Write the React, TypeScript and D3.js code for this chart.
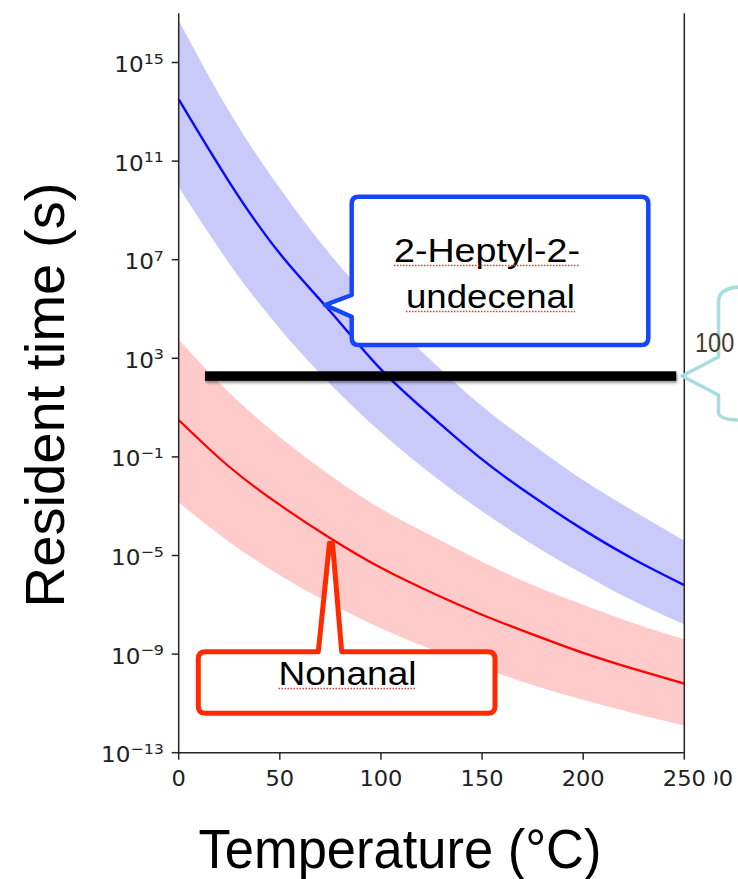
import React, { useEffect, useRef } from 'react';
import * as d3 from 'd3';

const temperatures = [0, 25, 50, 75, 100, 125, 150, 175, 200, 225, 250];

// log10 of resident time (s)
const heptylMid = [13.5, 10.15, 7.25, 4.9, 2.55, 0.65, -1.1, -2.6, -3.95, -5.15, -6.2];
const heptylHi = [16.7, 13.0, 9.9, 7.2, 4.9, 2.9, 1.05, -0.5, -1.95, -3.2, -4.4];
const heptylLo = [9.95, 6.85, 4.2, 1.95, 0.0, -1.7, -3.2, -4.55, -5.75, -6.85, -7.8];

const nonanalMid = [0.5, -1.4, -2.95, -4.3, -5.5, -6.5, -7.4, -8.2, -8.95, -9.6, -10.2];
const nonanalHi = [3.75, 1.6, -0.2, -1.75, -3.1, -4.2, -5.25, -6.2, -7.0, -7.75, -8.4];
const nonanalLo = [-2.85, -4.45, -5.8, -6.95, -7.95, -8.8, -9.55, -10.25, -10.85, -11.4, -11.9];

// thick threshold bar
const thresholdExp = 2.28;
const thresholdSpan = [13, 246];

const xTicks = [0, 50, 100, 150, 200, 250];
const yTickExps = [15, 11, 7, 3, -1, -5, -9, -13];

const SX = 1.1; // picture is a bit wider than tall

const App = () => {
  const svgRef = useRef<SVGSVGElement>(null);

  useEffect(() => {
    const svg = d3.select(svgRef.current);
    svg.selectAll('*').remove();

    const x = d3.scaleLinear().domain([0, 250]).range([178.7, 684.3]);
    const y = d3.scaleLog().domain([1e-13, 1e17]).range([752.7, 13.2]);
    const ye = (e: number) => y(Math.pow(10, e));

    const defs = svg.append('defs');
    const shadow = defs.append('filter').attr('id', 'barShadow')
      .attr('filterUnits', 'userSpaceOnUse')
      .attr('x', 180).attr('y', 355).attr('width', 520).attr('height', 45);
    shadow.append('feDropShadow').attr('dx', 1).attr('dy', 2)
      .attr('stdDeviation', 1.5).attr('flood-opacity', 0.45);
    defs.append('clipPath').attr('id', 'edgeClip')
      .append('rect').attr('x', 714.5).attr('y', 760).attr('width', 30).attr('height', 40);

    svg.append('rect').attr('width', 738).attr('height', 879).attr('fill', '#fff');

    const band = (lo: number[], hi: number[]) => d3.area<number>()
      .x((d, i) => x(temperatures[i]))
      .y0((d, i) => ye(lo[i]))
      .y1((d, i) => ye(hi[i]))
      .curve(d3.curveNatural)(temperatures);

    const line = (vals: number[]) => d3.line<number>()
      .x((d, i) => x(temperatures[i]))
      .y((d, i) => ye(vals[i]))
      .curve(d3.curveNatural)(temperatures);

    svg.append('path').attr('d', band(heptylLo, heptylHi)).attr('fill', '#c9c9fa');
    svg.append('path').attr('d', band(nonanalLo, nonanalHi)).attr('fill', '#ffcaca');
    svg.append('path').attr('d', line(heptylMid)).attr('fill', 'none')
      .attr('stroke', '#0a0aff').attr('stroke-width', 2.4);
    svg.append('path').attr('d', line(nonanalMid)).attr('fill', 'none')
      .attr('stroke', '#ff0000').attr('stroke-width', 2.2);

    // spines
    const axisColor = '#262626';
    svg.append('line').attr('x1', x(0)).attr('x2', x(0)).attr('y1', y.range()[1]).attr('y2', y.range()[0])
      .attr('stroke', axisColor).attr('stroke-width', 1.5);
    svg.append('line').attr('x1', x(250)).attr('x2', x(250)).attr('y1', y.range()[1]).attr('y2', y.range()[0])
      .attr('stroke', axisColor).attr('stroke-width', 1.5);
    svg.append('line').attr('x1', x(0) - 0.75).attr('x2', x(250) + 0.75).attr('y1', y.range()[0]).attr('y2', y.range()[0])
      .attr('stroke', axisColor).attr('stroke-width', 1.5);

    const tickFont = 'DejaVu Sans, sans-serif';

    // x ticks
    xTicks.forEach(t => {
      svg.append('line').attr('x1', x(t)).attr('x2', x(t))
        .attr('y1', y.range()[0]).attr('y2', y.range()[0] + 7)
        .attr('stroke', axisColor).attr('stroke-width', 1.5);
      svg.append('text')
        .attr('transform', `translate(${x(t)},785.5) scale(${SX},1)`)
        .attr('text-anchor', 'middle')
        .attr('font-family', tickFont).attr('font-size', 20.5).attr('fill', '#222')
        .text(String(t));
    });

    // y ticks with superscript exponents
    yTickExps.forEach(e => {
      const ty = ye(e);
      svg.append('line').attr('x1', x(0) - 7).attr('x2', x(0)).attr('y1', ty).attr('y2', ty)
        .attr('stroke', axisColor).attr('stroke-width', 1.5);
      const txt = svg.append('text')
        .attr('transform', `translate(164,${ty + 9.5}) scale(${SX},1)`)
        .attr('text-anchor', 'end')
        .attr('font-family', tickFont).attr('fill', '#222');
      txt.append('tspan').attr('font-size', 21).text('10');
      txt.append('tspan').attr('font-size', 14.5).attr('dy', -8.5)
        .text(e < 0 ? `\u2212${-e}` : String(e));
    });

    // clipped remnant of a label at the right edge
    svg.append('g').attr('clip-path', 'url(#edgeClip)')
      .append('text')
      .attr('transform', `translate(704.5,785.5) scale(${SX},1)`)
      .attr('font-family', tickFont).attr('font-size', 20.5).attr('fill', '#222')
      .text('00');

    // axis titles
    svg.append('text')
      .attr('x', 400).attr('y', 868)
      .attr('text-anchor', 'middle')
      .attr('font-family', 'Liberation Sans, Arial, sans-serif').attr('font-size', 55)
      .attr('textLength', 403).attr('lengthAdjust', 'spacingAndGlyphs')
      .attr('fill', '#000')
      .text('Temperature (°C)');
    svg.append('text')
      .attr('transform', 'translate(64,395) rotate(-90)')
      .attr('text-anchor', 'middle')
      .attr('font-family', 'Liberation Sans, Arial, sans-serif').attr('font-size', 55)
      .attr('textLength', 425).attr('lengthAdjust', 'spacingAndGlyphs')
      .attr('fill', '#000')
      .text('Resident time (s)');

    // threshold bar
    const barY = ye(thresholdExp);
    svg.append('rect')
      .attr('x', x(thresholdSpan[0])).attr('width', x(thresholdSpan[1]) - x(thresholdSpan[0]))
      .attr('y', barY - 4.75).attr('height', 9.5)
      .attr('fill', '#000')
      .attr('filter', 'url(#barShadow)');

    // teal brace and its label at the right edge
    svg.append('path')
      .attr('d', 'M 740 287 Q 718.5 288 718.5 302 V 357 L 682 376 L 718.5 395 V 412 Q 718.5 420 740 420')
      .attr('fill', 'none').attr('stroke', '#a9dcdc').attr('stroke-width', 3.5)
      .attr('stroke-linejoin', 'round');
    svg.append('text')
      .attr('transform', 'translate(695,352) scale(1,1.17)')
      .attr('font-family', 'Liberation Sans, Arial, sans-serif').attr('font-size', 23.5)
      .attr('fill', '#4a3a2e')
      .text('100');

    // callout: 2-Heptyl-2-undecenal
    {
      const L = 351.7, T = 196.7, R = 648.3, B = 345, r = 7;
      const tipX = 325, tipY = 305;
      const d = `M ${L + r} ${T} H ${R - r} Q ${R} ${T} ${R} ${T + r} V ${B - r} Q ${R} ${B} ${R - r} ${B}`
        + ` H ${L + r} Q ${L} ${B} ${L} ${B - r} V 316.7 L ${tipX} ${tipY} L ${L} 295 V ${T + r} Q ${L} ${T} ${L + r} ${T} Z`;
      svg.append('path').attr('d', d).attr('fill', '#fff')
        .attr('stroke', '#1446ff').attr('stroke-width', 4.5).attr('stroke-linejoin', 'round');
      const lines = [
        { s: '2-Heptyl-2-', cx: 487, by: 262, w: 186 },
        { s: 'undecenal', cx: 490.5, by: 308, w: 169 },
      ];
      lines.forEach(l => {
        svg.append('text').attr('x', l.cx).attr('y', l.by).attr('text-anchor', 'middle')
          .attr('font-family', 'Liberation Sans, Arial, sans-serif').attr('font-size', 33)
          .attr('textLength', l.w).attr('lengthAdjust', 'spacingAndGlyphs')
          .attr('fill', '#000').text(l.s);
        svg.append('line').attr('x1', l.cx - l.w / 2).attr('x2', l.cx + l.w / 2)
          .attr('y1', l.by + 3.5).attr('y2', l.by + 3.5)
          .attr('stroke', '#e23c3c').attr('stroke-width', 1.3).attr('stroke-dasharray', '1.5,1.5');
      });
    }

    // callout: Nonanal
    {
      const L = 198.3, T = 651.7, R = 495, B = 713.3, r = 7;
      const tipX = 331, tipY = 543.3;
      const d = `M ${L + r} ${T} H 318.3 L ${tipX - 1.5} ${tipY} L ${tipX + 1.5} ${tipY} L 341.7 ${T} H ${R - r} Q ${R} ${T} ${R} ${T + r}`
        + ` V ${B - r} Q ${R} ${B} ${R - r} ${B} H ${L + r} Q ${L} ${B} ${L} ${B - r} V ${T + r} Q ${L} ${T} ${L + r} ${T} Z`;
      svg.append('path').attr('d', d).attr('fill', '#fff')
        .attr('stroke', '#ff2a00').attr('stroke-width', 5).attr('stroke-linejoin', 'round');
      svg.append('text').attr('x', 347.5).attr('y', 685).attr('text-anchor', 'middle')
        .attr('font-family', 'Liberation Sans, Arial, sans-serif').attr('font-size', 33)
        .attr('textLength', 138).attr('lengthAdjust', 'spacingAndGlyphs')
        .attr('fill', '#000').text('Nonanal');
      svg.append('line').attr('x1', 278.5).attr('x2', 416.5).attr('y1', 688.5).attr('y2', 688.5)
        .attr('stroke', '#e23c3c').attr('stroke-width', 1.3).attr('stroke-dasharray', '1.5,1.5');
    }
  }, []);

  return (
    <svg ref={svgRef} width={738} height={879}
      style={{ position: 'absolute', left: 0, top: 0, display: 'block' }} />
  );
};

export default App;
